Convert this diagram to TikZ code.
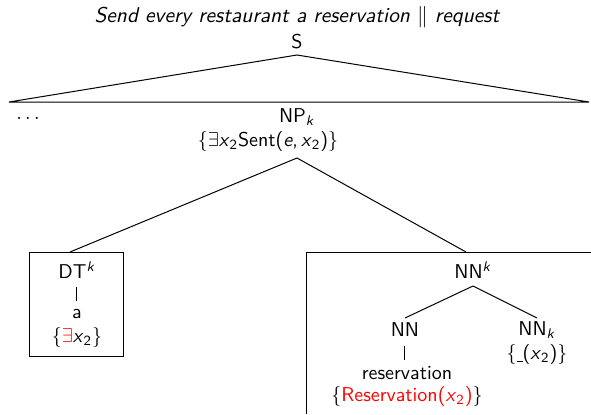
\documentclass[tikz,border=0pt]{standalone}
\usepackage{graphicx}
\begin{document}
\sffamily
\newcommand{\vx}{\textsl{x}}
\newcommand{\xtwo}{\vx\textsubscript{2}}
\begin{tikzpicture}[x=0.5pt,y=-0.5pt,
  lbl/.style={inner sep=0pt, font=\sffamily},
  edge/.style={line width=0.5pt}]
\useasboundingbox (0,0) rectangle (591,414);
% sentence and root
\node[lbl] (title) at (297.5,17)
  {\scalebox{1.07}{\textsl{Send every restaurant a reservation} $\|$ \textsl{request}}};
\node[lbl] (S) at (297,42) {S};
\coordinate (apex) at (297,55);
\coordinate (bl) at (9,102);
\coordinate (br) at (589,102);
\draw[edge] (bl) -- (apex) -- (br) -- cycle;
% noun phrase
\node[lbl] (dots) at (28,118) {$\ldots$};
\node[lbl] (NP) at (297,117) {NP\textsubscript{\textsl{k}}};
\node[lbl] (NPsem) at (268,141) {\{$\exists$\xtwo Sent(\textsl{e},\,\xtwo)\}};
\coordinate (NPb) at (297,158);
% determiner box
\coordinate (DTtop) at (70,252);
\draw[edge] (30,252) rectangle (124,356);
\node[lbl] (DT) at (77,270) {DT\textsuperscript{\textsl{k}}};
\node[lbl] (a) at (77,314) {a};
\draw[edge] (77,287) -- (77,301);
\node[lbl] (DTsem) at (77,337) {\{\textcolor{red}{$\exists$}\xtwo\}};
% noun box (open towards the right and bottom)
\coordinate (NNtop) at (466,252);
\draw[edge] (307,414) -- (307,252) -- (591,252);
\node[lbl] (NNk) at (473,270) {NN\textsuperscript{\textsl{k}}};
\coordinate (NNkb) at (473,286);
\node[lbl] (NN) at (405,330) {NN};
\node[lbl] (NNsub) at (537,330) {NN\textsubscript{\textsl{k}}};
\draw[edge] (NNkb) -- (405,318);
\draw[edge] (NNkb) -- (537,318);
\draw[edge] (405,346) -- (405,360);
\node[lbl] (res) at (407,373) {reservation};
\node[lbl] (ressem) at (407,396) {\{\textcolor{red}{Reservation(\xtwo)}\}};
\node[lbl] (NNsem) at (537,354) {\{\rule[-0.3ex]{0.3em}{0.4pt}(\xtwo)\}};
% branches from NP
\draw[edge] (NPb) -- (DTtop);
\draw[edge] (NPb) -- (NNtop);
\end{tikzpicture}
\end{document}
